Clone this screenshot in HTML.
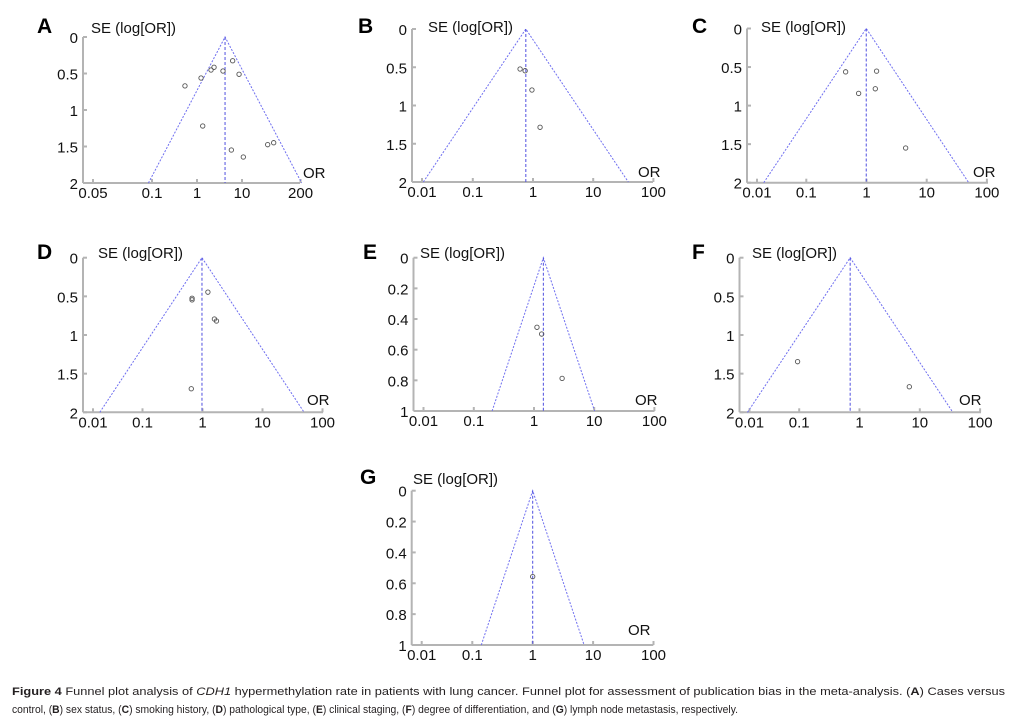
<!DOCTYPE html>
<html><head><meta charset="utf-8"><style>
html,body{margin:0;padding:0;background:#fff;}
svg{display:block;font-family:"Liberation Sans",Arial,sans-serif;}
</style></head><body>
<svg id="fig" width="1010" height="720" viewBox="0 0 1010 720">
<g id="caption" font-size="11" fill="#231f20">
<text x="12" y="695" textLength="993" lengthAdjust="spacingAndGlyphs"><tspan font-weight="bold">Figure 4</tspan> Funnel plot analysis of <tspan font-style="italic">CDH1</tspan> hypermethylation rate in patients with lung cancer. Funnel plot for assessment of publication bias in the meta-analysis. (<tspan font-weight="bold">A</tspan>) Cases versus</text>
<text x="12" y="713" textLength="726" lengthAdjust="spacingAndGlyphs">control, (<tspan font-weight="bold">B</tspan>) sex status, (<tspan font-weight="bold">C</tspan>) smoking history, (<tspan font-weight="bold">D</tspan>) pathological type, (<tspan font-weight="bold">E</tspan>) clinical staging, (<tspan font-weight="bold">F</tspan>) degree of differentiation, and (<tspan font-weight="bold">G</tspan>) lymph node metastasis, respectively.</text>
</g>
</svg>
<script>
// ---- data ----
const orA = [0.54, 1.23, 2.05, 2.39, 3.78, 6.2, 8.6, 1.34, 5.8, 10.7, 37.2, 50.6];
const seA = [0.67, 0.562, 0.452, 0.415, 0.466, 0.325, 0.511, 1.219, 1.548, 1.644, 1.475, 1.448];
const pooledA = 4.2;
const orB = [0.61, 0.74, 0.96, 1.31];
const seB = [0.523, 0.545, 0.797, 1.285];
const pooledB = 0.76;
const orC = [0.45, 1.47, 0.74, 1.40, 4.47];
const seC = [0.562, 0.553, 0.842, 0.782, 1.55];
const pooledC = 0.99;
const orD = [0.67, 0.67, 1.23, 1.58, 1.71, 0.65];
const seD = [0.525, 0.545, 0.446, 0.793, 0.819, 1.695];
const pooledD = 0.98;
const orE = [1.12, 1.34, 2.93];
const seE = [0.454, 0.498, 0.787];
const pooledE = 1.43;
const orF = [0.094, 6.7];
const seF = [1.345, 1.669];
const pooledF = 0.70;
const orG = [1.0];
const seG = [0.557];
const pooledG = 1.0;
const xTicksA = [0.05, 0.1, 1, 10, 200];
const xTicksStd = [0.01, 0.1, 1, 10, 100];
const yTicks2 = [0, 0.5, 1, 1.5, 2];
const yTicks1 = [0, 0.2, 0.4, 0.6, 0.8, 1];

// ---- layout (pixels) ----
const panels = [
 {id:'A',or:orA,se:seA,p:pooledA,xt:xTicksA,yt:yTicks2,ax:83,y0:37,y1:183,x1:197,dec:45,xr:300,lx:37,ly:33,sx:91,sy:33,ox:303,oy:178,padFirst:true},
 {id:'B',or:orB,se:seB,p:pooledB,xt:xTicksStd,yt:yTicks2,ax:412,y0:29,y1:182,x1:533,dec:60.2,xr:653,lx:358,ly:33,sx:428,sy:32,ox:638,oy:177},
 {id:'C',or:orC,se:seC,p:pooledC,xt:xTicksStd,yt:yTicks2,ax:747,y0:28.5,y1:182.7,x1:866.5,dec:60.2,xr:988,lx:692,ly:33,sx:761,sy:32,ox:973,oy:177},
 {id:'D',or:orD,se:seD,p:pooledD,xt:xTicksStd,yt:yTicks2,ax:83,y0:257.7,y1:412.3,x1:202.5,dec:60,xr:323,lx:37,ly:259,sx:98,sy:258,ox:307,oy:405},
 {id:'E',or:orE,se:seE,p:pooledE,xt:xTicksStd,yt:yTicks1,ax:413.5,y0:257.7,y1:411,x1:534,dec:60.2,xr:654.5,lx:363,ly:259,sx:420,sy:258,ox:635,oy:405},
 {id:'F',or:orF,se:seF,p:pooledF,xt:xTicksStd,yt:yTicks2,ax:739.5,y0:257.7,y1:412.3,x1:859.5,dec:60.3,xr:981,lx:692,ly:259,sx:752,sy:258,ox:959,oy:405},
 {id:'G',or:orG,se:seG,p:pooledG,xt:xTicksStd,yt:yTicks1,ax:411.7,y0:490.7,y1:645,x1:532.7,dec:60.4,xr:653.3,lx:360,ly:484,sx:413,sy:484,ox:628,oy:635}
];
const NS='http://www.w3.org/2000/svg';
const svg=document.getElementById('fig');
function mk(tag,attrs,parent){const e=document.createElementNS(NS,tag);for(const k in attrs)e.setAttribute(k,attrs[k]);parent.appendChild(e);return e;}
panels.forEach(P=>{
  const g=mk('g',{},svg);
  
  
  const seMax=P.yt[P.yt.length-1];
  const xs=v=>P.x1+Math.log10(v)*P.dec;
  const ys=s=>P.y0+(s/seMax)*(P.y1-P.y0);
  const yAx=mk('line',{x1:P.ax,y1:P.y0,x2:P.ax,y2:P.y1,stroke:'#b4b4b4','stroke-width':2},g);
  
  
  const xAx=mk('line',{x1:P.ax,y1:P.y1,x2:P.xr,y2:P.y1,stroke:'#b4b4b4','stroke-width':2},g);
  
  
  P.yt.forEach(t=>{
    const y=ys(t);
    mk('line',{x1:P.ax,y1:y,x2:P.ax+4,y2:y,stroke:'#b4b4b4','stroke-width':2},g);
    const tx=mk('text',{x:P.ax-5,y:y+6,'font-size':15,'text-anchor':'end',fill:'#111'},g);
    tx.textContent=String(t);
    
    
  });
  P.xt.forEach((t,i)=>{
    let x=Math.max(xs(t),P.ax+10);
    if(P.padFirst && i===0) x=P.ax+10;
    mk('line',{x1:x,y1:P.y1,x2:x,y2:P.y1-4,stroke:'#b4b4b4','stroke-width':2},g);
    const tx=mk('text',{x:x,y:P.y1+15,'font-size':15,'text-anchor':'middle',fill:'#111'},g);
    tx.textContent=String(t);
    
    
  });
  const half=1.96*seMax/Math.LN10*P.dec;
  const cx=xs(P.p);
  const fl=mk('polyline',{points:`${cx-half},${P.y1} ${cx},${P.y0} ${cx+half},${P.y1}`,fill:'none',stroke:'#6f6ff0','stroke-width':1,'stroke-dasharray':'2,1.5'},g);
  
  
  const cl=mk('line',{x1:cx,y1:P.y0,x2:cx,y2:P.y1,stroke:'#5050e0','stroke-width':1,'stroke-dasharray':'3,2'},g);
  
  
  P.or.forEach((o,i)=>{
    const c=mk('circle',{cx:xs(o),cy:ys(P.se[i]),r:2.2,fill:'none',stroke:'#555','stroke-width':0.9},g);
    
    
  });
  const L=mk('text',{x:P.lx,y:P.ly,'font-size':21,'font-weight':'bold',fill:'#000'},g);
  L.textContent=P.id;
  
  
  const S=mk('text',{x:P.sx,y:P.sy,'font-size':15,fill:'#111'},g);
  S.textContent='SE (log[OR])';
  
  
  const O=mk('text',{x:P.ox,y:P.oy,'font-size':15,fill:'#111'},g);
  O.textContent='OR';
  
  
});
</script>
</body></html>
